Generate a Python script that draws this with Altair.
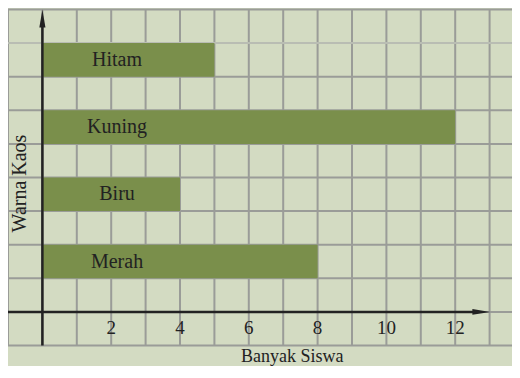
import altair as alt
import pandas as pd

# data
categories = ["Merah", "Biru", "Kuning", "Hitam"]
values = [8, 4, 12, 5]
rows = [1, 3, 5, 7]          # bottom row of each bar (bars are one grid unit tall)
tick_values = [2, 4, 6, 8, 10, 12]
x_title = "Banyak Siswa"
y_title = "Warna Kaos"

BG = "#d3dbc2"
GRID = "#9a9c98"
BAR = "#7a8f4b"
INK = "#222222"
FONT = "'Liberation Serif', 'Times New Roman', serif"

W, H = 504, 358
UX, UY = 34.4, 33.6
TOP = 9 + 1.5 / UY
XD = [-1, -1 + W / UX]
YD = [TOP - H / UY, TOP]
xs = alt.Scale(domain=XD, nice=False, zero=False)
ys = alt.Scale(domain=YD, nice=False, zero=False)

bars_df = pd.DataFrame({"cat": categories, "val": values, "y0": rows,
                        "y1": [r + 1 for r in rows], "x0": [0] * 4,
                        "ym": [r + 0.5 for r in rows], "lx": [2.17] * 4})

vgrid = pd.DataFrame({"x": list(range(-1, 14)), "y1": -1, "y2": 9})
hgrid = pd.DataFrame({"y": list(range(-1, 10)), "x1": -1, "x2": XD[1]})
hgrid["c"] = [GRID if v != 8 else "#b9bdb3" for v in hgrid["y"]]

v_layer = alt.Chart(vgrid).mark_rule(color=GRID, strokeWidth=2).encode(
    x=alt.X("x:Q", scale=xs, axis=None),
    y=alt.Y("y1:Q", scale=ys, axis=None), y2="y2:Q")
h_layer = alt.Chart(hgrid).mark_rule(strokeWidth=2).encode(
    y=alt.Y("y:Q", scale=ys, axis=None),
    x=alt.X("x1:Q", scale=xs, axis=None), x2="x2:Q",
    color=alt.Color("c:N", scale=None))

bar_layer = alt.Chart(bars_df).mark_rect(color=BAR).encode(
    x=alt.X("x0:Q", scale=xs, axis=None), x2="val:Q",
    y=alt.Y("y0:Q", scale=ys, axis=None), y2="y1:Q")
bar_text = alt.Chart(bars_df).mark_text(font=FONT, fontSize=20, color=INK,
                                        baseline="middle", align="center").encode(
    x=alt.X("lx:Q", scale=xs, axis=None),
    y=alt.Y("ym:Q", scale=ys, axis=None), text="cat:N")

axes_df = pd.DataFrame({"x1": [-1, 0], "x2": [12.6, 0], "y1": [0, -1], "y2": [0, 8.6]})
axis_layer = alt.Chart(axes_df).mark_rule(color=INK, strokeWidth=2.5).encode(
    x=alt.X("x1:Q", scale=xs, axis=None), x2="x2:Q",
    y=alt.Y("y1:Q", scale=ys, axis=None), y2="y2:Q")

up_arrow = alt.Chart(pd.DataFrame({"x": [0], "y": [TOP - 10.5 / UY]})).mark_point(
    shape="M0,-1L0.34,1L-0.34,1Z", size=324, filled=True, color=INK,
    opacity=1, strokeWidth=0).encode(
    x=alt.X("x:Q", scale=xs, axis=None), y=alt.Y("y:Q", scale=ys, axis=None))
right_arrow = alt.Chart(pd.DataFrame({"x": [12.76], "y": [0]})).mark_point(
    shape="M1,0L-1,0.32L-1,-0.32Z", size=324, filled=True, color=INK,
    opacity=1, strokeWidth=0).encode(
    x=alt.X("x:Q", scale=xs, axis=None), y=alt.Y("y:Q", scale=ys, axis=None))

ticks_df = pd.DataFrame({"x": tick_values, "y": [-0.47] * len(tick_values),
                         "t": [str(v) for v in tick_values]})
tick_text = alt.Chart(ticks_df).mark_text(font=FONT, fontSize=19, color=INK,
                                          baseline="middle", align="center").encode(
    x=alt.X("x:Q", scale=xs, axis=None), y=alt.Y("y:Q", scale=ys, axis=None),
    text="t:N")

xt = alt.Chart(pd.DataFrame({"x": [7.26], "y": [TOP - 353.5 / UY], "t": [x_title]})).mark_text(
    font=FONT, fontSize=18, color=INK, baseline="alphabetic", align="center").encode(
    x=alt.X("x:Q", scale=xs, axis=None), y=alt.Y("y:Q", scale=ys, axis=None),
    text="t:N")
yt = alt.Chart(pd.DataFrame({"x": [-0.651], "y": [TOP - 175.5 / UY], "t": [y_title]})).mark_text(
    font=FONT, fontSize=20, color=INK, baseline="middle", align="center",
    angle=270).encode(
    x=alt.X("x:Q", scale=xs, axis=None), y=alt.Y("y:Q", scale=ys, axis=None),
    text="t:N")

chart = alt.layer(v_layer, h_layer, bar_layer, bar_text, axis_layer, up_arrow,
                  right_arrow, tick_text, xt, yt).properties(
    width=W, height=H, padding=0, autosize="none", background=BG
).configure_view(stroke=None)

chart.save("out.html", embed_options={"renderer": "svg", "actions": False})
